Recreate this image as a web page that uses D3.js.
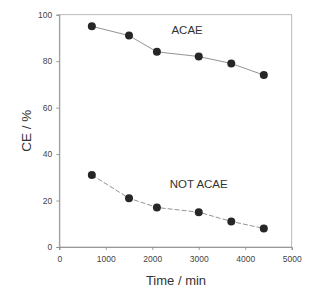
<!DOCTYPE html>
<html>
<head>
<meta charset="utf-8">
<script src="https://cdn.jsdelivr.net/npm/d3@7"></script>
<style>
body { margin: 0; background: white; }
text { font-family: "Liberation Sans", Arial, sans-serif; }
</style>
</head>
<body>
<svg width="328" height="288"></svg>
<script>
const times = [700, 1500, 2100, 3000, 3700, 4400];
const acae = [95, 91, 84, 82, 79, 74];
const notAcae = [31, 21, 17, 15, 11, 8];
const xTicks = [0, 1000, 2000, 3000, 4000, 5000];
const yTicks = [0, 20, 40, 60, 80, 100];

const svg = d3.select('svg');

const plotLeft = 59.3, plotRight = 291.7, plotTop = 14.7, plotBottom = 247;

const x = d3.scaleLinear().domain([0, 5000]).range([plotLeft, plotRight]);
const y = d3.scaleLinear().domain([0, 100]).range([plotBottom, plotTop]);

// frame
svg.append('rect')
	.attr('x', plotLeft).attr('y', plotTop)
	.attr('width', plotRight - plotLeft).attr('height', plotBottom - plotTop)
	.attr('fill', 'none')
	.attr('stroke', '#aaa')
	.attr('stroke-width', 0.8);

const xAxis = svg.append('g')
	.attr('transform', `translate(0,${plotBottom})`)
	.call(d3.axisBottom(x).tickValues(xTicks).tickFormat(d3.format('d')).tickSize(3).tickPadding(6));

const yAxis = svg.append('g')
	.attr('transform', `translate(${plotLeft},0)`)
	.call(d3.axisLeft(y).tickValues(yTicks).tickSize(3).tickPadding(4));

[xAxis, yAxis].forEach(a => {
	a.select('.domain').attr('stroke', '#888').attr('stroke-width', 0.8);
	a.selectAll('.tick line').attr('stroke', '#888').attr('stroke-width', 0.8);
	a.selectAll('.tick text')
		.attr('fill', '#444')
		.style('font-size', '8.5px')
		.style('font-family', '"Liberation Sans", Arial, sans-serif');
});

const series = [
	{ values: acae, dash: null },
	{ values: notAcae, dash: '5,2' }
];

const line = d3.line()
	.x((d, i) => x(times[i]))
	.y(d => y(d));

series.forEach(s => {
	svg.append('path')
		.datum(s.values)
		.attr('d', line)
		.attr('fill', 'none')
		.attr('stroke', '#777')
		.attr('stroke-width', 0.8)
		.attr('stroke-dasharray', s.dash);

	svg.append('g').selectAll('circle')
		.data(s.values)
		.join('circle')
			.attr('cx', (d, i) => x(times[i]))
			.attr('cy', d => y(d))
			.attr('r', 4)
			.attr('fill', '#262626');
});

svg.append('text')
	.attr('x', x(2750)).attr('y', y(91.5))
	.attr('text-anchor', 'middle')
	.attr('fill', '#333')
	.style('font-size', '11.5px')
	.text('ACAE');

svg.append('text')
	.attr('x', x(3000)).attr('y', y(25.5))
	.attr('text-anchor', 'middle')
	.attr('fill', '#333')
	.style('font-size', '11.5px')
	.text('NOT ACAE');

svg.append('text')
	.attr('x', x(2500) + 0.5).attr('y', 285)
	.attr('text-anchor', 'middle')
	.attr('fill', '#333')
	.style('font-size', '13px')
	.text('Time / min');

svg.append('text')
	.attr('transform', `translate(31,${y(50)}) rotate(-90)`)
	.attr('text-anchor', 'middle')
	.attr('fill', '#333')
	.style('font-size', '13.5px')
	.text('CE / %');
</script>
</body>
</html>
